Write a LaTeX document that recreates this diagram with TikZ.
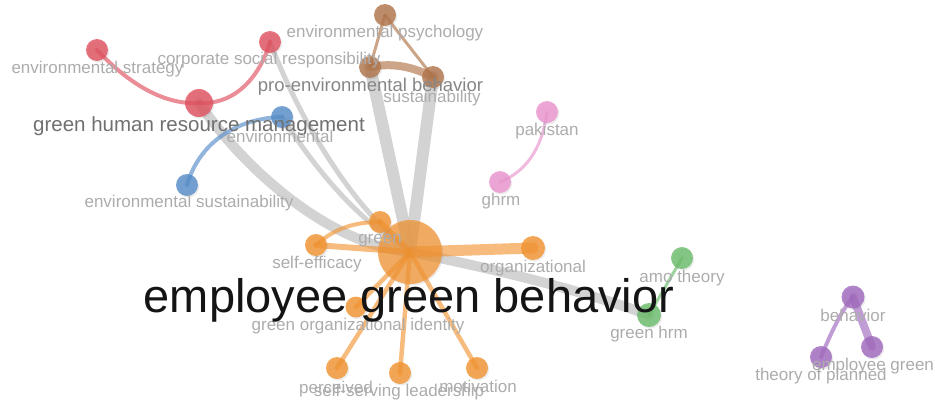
\documentclass[tikz,border=0pt]{standalone}
\usepackage{fontspec}
\setmainfont{Liberation Sans}
\usetikzlibrary{shadows}
\definecolor{cor}{RGB}{242,146,46}
\definecolor{cred}{RGB}{224,80,94}
\definecolor{cblue}{RGB}{84,140,200}
\definecolor{cbrown}{RGB}{176,116,74}
\definecolor{cpink}{RGB}{234,148,206}
\definecolor{cgreen}{RGB}{106,188,106}
\definecolor{cpurp}{RGB}{160,104,190}
\definecolor{cedge}{RGB}{200,200,200}
\definecolor{labgray}{RGB}{172,172,172}
\definecolor{labdark}{RGB}{112,112,112}
\definecolor{labmid}{RGB}{134,134,134}
\pgfdeclarelayer{bg}
\pgfsetlayers{bg,main}
\begin{document}
\begin{tikzpicture}[x=1pt,y=-1pt,
  dot/.style={circle, fill=#1, fill opacity=.8, inner sep=0pt, draw=none,
    drop shadow={shadow xshift=1.2pt, shadow yshift=-1.6pt, opacity=.15}},
  lbl/.style={text=labgray, font=\fontsize{17}{20}\selectfont, anchor=base, inner sep=0pt},
  ge/.style={draw=cedge, draw opacity=.8, line cap=round},
  oe/.style={draw=cor, draw opacity=.62, line cap=round},
  ce/.style={draw=#1, draw opacity=.65, line cap=round}]
\useasboundingbox (0,0) rectangle (935,408);
% nodes
\node[dot=cor, fill opacity=.72, minimum size=64pt] (egb) at (410,252) {};
\node[dot=cor, minimum size=22pt] (gr) at (380,222) {};
\node[dot=cor, minimum size=22pt] (se) at (316,245) {};
\node[dot=cor, minimum size=24pt] (org) at (533,248) {};
\node[dot=cor, minimum size=21pt] (goi) at (356,307) {};
\node[dot=cor, minimum size=22pt] (per) at (337,368) {};
\node[dot=cor, minimum size=22pt] (ssl) at (400,373) {};
\node[dot=cor, minimum size=22pt] (mot) at (477,368) {};
\node[dot=cred, minimum size=22pt] (es) at (97,50) {};
\node[dot=cred, minimum size=28pt] (ghrm) at (199,103) {};
\node[dot=cred, minimum size=22pt] (csr) at (270,42) {};
\node[dot=cblue, minimum size=22pt] (env) at (282,117) {};
\node[dot=cblue, minimum size=22pt] (esus) at (187,185) {};
\node[dot=cbrown, minimum size=22pt] (ep) at (385,15) {};
\node[dot=cbrown, minimum size=22pt] (peb) at (370,67) {};
\node[dot=cbrown, minimum size=22pt] (sus) at (433,77) {};
\node[dot=cpink, minimum size=22pt] (pak) at (547,112) {};
\node[dot=cpink, minimum size=22pt] (gh) at (500,182) {};
\node[dot=cgreen, minimum size=22pt] (amo) at (682,258) {};
\node[dot=cgreen, minimum size=24pt] (ghr) at (649,315) {};
\node[dot=cpurp, minimum size=23pt] (beh) at (853,297) {};
\node[dot=cpurp, minimum size=22pt] (eg) at (872,347) {};
\node[dot=cpurp, minimum size=22pt] (tpb) at (821,357) {};
% edges
\begin{pgfonlayer}{bg}
\draw[ge, line width=10pt] (ghrm.center) .. controls (245,170) and (330,245) .. (egb.center);
\draw[ge, line width=5pt] (csr.center) .. controls (300,120) and (350,205) .. (egb.center);
\draw[ge, line width=5pt] (env.center) .. controls (310,160) and (350,215) .. (egb.center);
\draw[ge, line width=12pt] (peb.center) -- (egb.center);
\draw[ge, line width=12pt] (sus.center) -- (egb.center);
\draw[ge, line width=10pt] (egb.center) .. controls (500,270) and (580,290) .. (ghr.center);
\draw[oe, line width=6pt] (egb.center) -- (gr.center);
\draw[oe, line width=6pt] (egb.center) -- (se.center);
\draw[oe, line width=4pt] (se.center) .. controls (335,228) and (355,222) .. (gr.center);
\draw[oe, line width=11pt] (egb.center) -- (org.center);
\draw[oe, line width=4.5pt] (egb.center) -- (goi.center);
\draw[oe, line width=4.5pt] (egb.center) -- (per.center);
\draw[oe, line width=4.5pt] (egb.center) -- (ssl.center);
\draw[oe, line width=4.5pt] (egb.center) -- (mot.center);
\draw[ce=cred, line width=4pt] (es.center) .. controls (130,85) and (165,105) .. (ghrm.center);
\draw[ce=cred, line width=4pt] (ghrm.center) .. controls (240,105) and (262,70) .. (csr.center);
\draw[ce=cblue, line width=4pt] (esus.center) .. controls (200,140) and (240,118) .. (env.center);
\draw[ce=cbrown, line width=3pt] (ep.center) -- (peb.center);
\draw[ce=cbrown, line width=3pt] (ep.center) .. controls (400,35) and (420,60) .. (sus.center);
\draw[ce=cbrown, line width=8pt] (peb.center) .. controls (395,62) and (415,68) .. (sus.center);
\draw[ce=cpink, line width=3pt] (pak.center) .. controls (542,150) and (525,172) .. (gh.center);
\draw[ce=cgreen, line width=3pt] (amo.center) -- (ghr.center);
\draw[ce=cpurp, line width=8pt] (beh.center) -- (eg.center);
\draw[ce=cpurp, line width=4pt] (beh.center) .. controls (840,312) and (828,340) .. (tpb.center);
\end{pgfonlayer}
% labels
\node[lbl] (t-es) at (97.5,73) {environmental strategy};
\node[lbl] (t-csr) at (269,64) {corporate social responsibility};
\node[lbl, text=labdark, font=\fontsize{20.5}{24}\selectfont] (t-ghrm) at (199,131) {green human resource management};
\node[lbl] (t-env) at (280,142) {environmental};
\node[lbl] (t-esus) at (189,207) {environmental sustainability};
\node[lbl] (t-ep) at (385,37) {environmental psychology};
\node[lbl, text=labmid, font=\fontsize{18.5}{22}\selectfont] (t-peb) at (370.5,91) {pro-environmental behavior};
\node[lbl] (t-sus) at (432,102) {sustainability};
\node[lbl] (t-pak) at (547,135) {pakistan};
\node[lbl] (t-gh) at (501,205) {ghrm};
\node[lbl] (t-gr) at (380,243) {green};
\node[lbl] (t-se) at (317,268) {self-efficacy};
\node[lbl] (t-org) at (533,272) {organizational};
\node[lbl] (t-goi) at (358,330) {green organizational identity};
\node[lbl] (t-per) at (336,393) {perceived};
\node[lbl] (t-ssl) at (399,396) {self-serving leadership};
\node[lbl] (t-mot) at (478,392) {motivation};
\node[lbl] (t-amo) at (682,282) {amo theory};
\node[lbl] (t-ghr) at (649,338) {green hrm};
\node[lbl] (t-beh) at (853,321) {behavior};
\node[lbl] (t-eg) at (873,370) {employee green};
\node[lbl] (t-tpb) at (821,380) {theory of planned};
\node[lbl, text=black!92, font=\fontsize{47}{54}\selectfont] (t-egb) at (409,312) {employee green behavior};
\end{tikzpicture}
\end{document}
